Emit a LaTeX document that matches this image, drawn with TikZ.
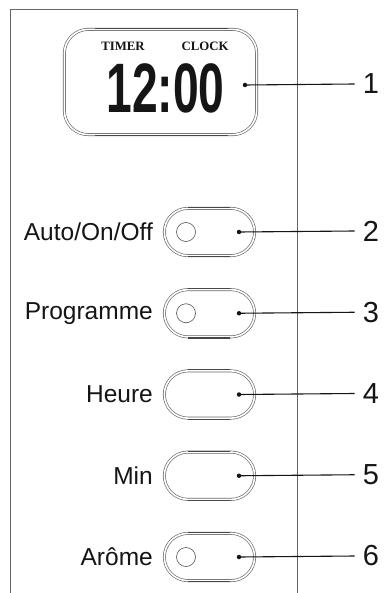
\documentclass[tikz,border=0pt]{standalone}
\usepackage{fontspec}
\setmainfont{Liberation Sans}
\newfontfamily\serifdisp{Liberation Serif}
\usetikzlibrary{shapes.misc}
\definecolor{edge}{HTML}{666666}
\definecolor{ink}{HTML}{151515}
\tikzset{
  panel/.style={draw=edge, line width=0.9pt},
  btn/.style={rounded rectangle, draw=edge, double=white, double distance=1.6pt, line width=0.65pt,
    minimum width=90.3pt, minimum height=47.3pt, inner sep=0pt},
  btnedge/.style={draw=edge!70!black, line width=1.1pt},
  hole/.style={circle, draw=edge!80!black, line width=0.6pt, minimum size=19pt, inner sep=0pt},
  tip/.style={circle, fill=ink, minimum size=4.5pt, inner sep=0pt},
  lead/.style={draw=ink, line width=1.1pt},
  num/.style={font=\fontsize{29}{32}\selectfont, text=ink, inner sep=0pt, inner xsep=8pt},
  lbl/.style={font=\fontsize{24.5}{29}\selectfont, text=ink, inner sep=0pt, anchor=east},
  disptext/.style={font=\serifdisp\bfseries\fontsize{12.8}{15}\selectfont, text=ink, inner sep=0pt},
}
\begin{document}
\begin{tikzpicture}[x=1pt,y=-1pt]
\useasboundingbox[fill=white] (0,0) rectangle (383,593);
% panel
\draw[panel] (10,593) -- (10,9) -- (297,9) -- (297,593);
% display
\node (disp) [draw=edge, double=white, double distance=1.6pt, line width=0.65pt, rounded corners=24pt,
  minimum width=192.3pt, minimum height=105.3pt, inner sep=0pt] at (160.5,82) {};
\draw[btnedge] (95,28.3) -- (228,28.3);
\draw[btnedge] (95,135.7) -- (228,135.7);
\node (timer) [disptext] at (123,46) {TIMER};
\node (clock) [disptext] at (205,46) {CLOCK};
\node (time) [font=\bfseries\fontsize{70}{72}\selectfont, text=ink, inner sep=0pt, xscale=0.66] at (165.5,88) {12:00};
\node (d1) [tip] at (245,85) {};
\node (n1) [num] at (371,84) {1};
\draw[lead] (d1.center) -- (n1.west);
% buttons
\foreach \i/\y/\t/\h in {2/232/Auto\slash On\slash Off/1, 3/313.25/Programme/1, 4/394.5/Heure/0, 5/475.75/Min/0, 6/557/Arôme/1}{
  \node (b\i) [btn] at (209.5,\y) {};
  \draw[btnedge] (188,\y-24.7) -- (230,\y-24.7);
  \draw[btnedge] (188,\y+24.7) -- (230,\y+24.7);
  \ifnum\h=1 \node (c\i) [hole] at (186,\y) {}; \fi
  \node (l\i) [lbl] at (153,\y) {\t};
  \node (d\i) [tip] at (239,\y) {};
  \node (n\i) [num] at (371,\y-1) {\i};
  \draw[lead] (d\i.center) -- (n\i.west);
}
\end{tikzpicture}
\end{document}
